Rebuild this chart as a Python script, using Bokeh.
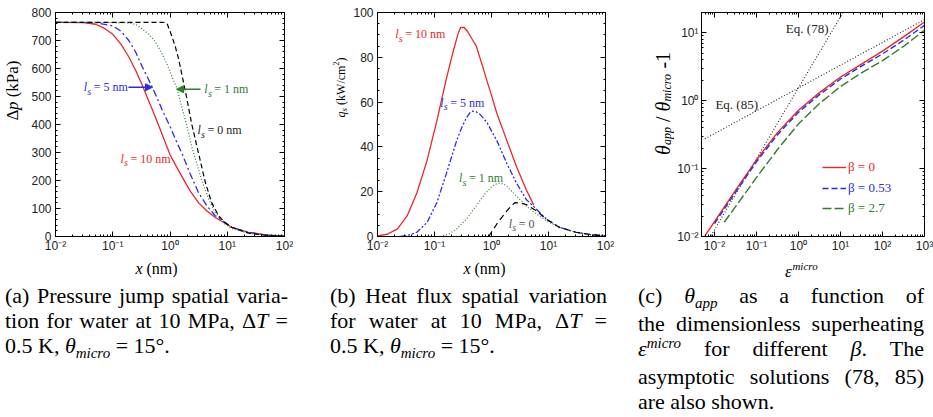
import math
from bokeh.plotting import figure
from bokeh.models import (LinearAxis, LogAxis, Range1d, Label, Arrow, NormalHead,
                          CustomJSTickFormatter, LogTicker, SingleIntervalTicker,
                          Legend, LegendItem, Div)
from bokeh.layouts import row, column
from bokeh.embed import file_html
from bokeh.resources import INLINE

SERIF = "Liberation Serif"
SANS = "Liberation Sans"
RED = "#e8262b"
BLUE = "#2b2be0"
GREEN = "#2f7d2f"
BLACK = "#000000"

# ---------------- (a) pressure jump dp (kPa) vs x (nm) ----------------
a_x_ls10 = [0.01, 0.0316, 0.0501, 0.0708, 0.1, 0.138, 0.191, 0.251, 0.327, 0.427, 0.562, 0.724, 1.0,
            1.26, 1.62, 2.24, 3.16, 4.47, 6.17, 12.0, 23.4, 50.1, 100]
a_dp_ls10 = [765, 764, 758, 744, 722, 688, 641, 594, 541, 483, 424, 366, 293,
             254, 214, 163, 120, 90, 68, 33, 15, 5, 1.5]
a_x_ls5 = [0.01, 0.0501, 0.1, 0.138, 0.191, 0.251, 0.327, 0.427, 0.562, 0.724, 1.02,
           1.26, 1.62, 2.24, 3.16, 4.47, 6.17, 12.0, 23.4, 50.1, 100]
a_dp_ls5 = [765, 764, 752, 734, 700, 659, 606, 559, 506, 454, 389,
            345, 296, 225, 156, 108, 74, 33, 15, 5, 1.5]
a_x_ls1 = [0.01, 0.158, 0.251, 0.427, 0.562, 0.724, 0.912, 1.12, 1.32, 1.62, 2.0, 2.4,
           3.16, 3.89, 4.79, 6.17, 9.12, 12.0, 23.4, 50.1, 100]
a_dp_ls1 = [765, 764, 758, 723, 694, 653, 610, 563, 530, 460, 390, 320,
            238, 180, 132, 85, 45, 28, 12, 4, 1.5]
a_x_ls0 = [0.01, 0.759, 0.891, 1.07, 1.23, 1.41, 1.86, 2.4, 3.16, 4.17, 5.37, 7.08,
           9.12, 12.0, 23.4, 50.1, 100]
a_dp_ls0 = [765, 765, 760, 717, 680, 635, 518, 401, 296, 191, 120, 74,
            50, 33, 12, 4, 1.5]

# ---------------- (b) heat flux q_s (kW/cm2) vs x (nm) ----------------
b_x_ls10 = [0.01, 0.0148, 0.0224, 0.0331, 0.049, 0.0741, 0.11, 0.162, 0.2, 0.24, 0.263, 0.288,
            0.331, 0.38, 0.447, 0.537, 0.708, 0.832, 1.0, 1.24, 1.86, 2.75, 4.07, 5.5]
b_q_ls10 = [0.3, 1.0, 3.4, 9.2, 19.4, 34, 51.6, 70.6, 80, 87.5, 91, 93.4,
            93.3, 91.5, 88.5, 85.2, 75.5, 69.5, 63, 55, 42.8, 31.1, 20.9, 14]
b_x_ls5 = [0.0251, 0.0355, 0.049, 0.0741, 0.11, 0.162, 0.245, 0.302, 0.363, 0.417, 0.468, 0.537,
           0.631, 0.832, 1.24, 1.86, 2.75, 4.07, 5.75, 9.12, 15.5, 30.2, 56.2, 100]
b_q_ls5 = [0, 0.6, 1.9, 6.3, 15.1, 28.2, 42.8, 48.8, 53, 55.2, 56, 55.7,
           54.5, 50.9, 42.8, 32.6, 23.8, 16.5, 12.9, 7.8, 4.1, 1.9, 0.8, 0.3]
b_x_ls1 = [0.126, 0.178, 0.245, 0.363, 0.537, 0.794, 1.02, 1.2, 1.41, 1.66, 1.86, 2.75, 4.07,
           6.17, 9.12, 15.5, 30.2, 56.2, 100]
b_q_ls1 = [0, 1.1, 3.4, 7.8, 13.6, 19.5, 22.4, 23.4, 23.8, 23.3, 22.4, 18, 13.6,
           10, 7, 4.1, 1.9, 0.8, 0.3]
b_x_ls0 = [0.891, 1.24, 1.86, 2.24, 2.57, 3.16, 4.07, 6.17, 9.12, 15.5, 30.2, 56.2, 100]
b_q_ls0 = [0, 5.6, 11.4, 13.8, 15.1, 15.0, 14.3, 11.4, 7.8, 4.1, 1.9, 0.8, 0.3]

# ---------------- (c) theta_app/theta_micro - 1 vs eps_micro ----------------
c_eps_b0 = [0.00589, 0.01, 0.0316, 0.1, 0.316, 1, 3.16, 10, 31.6, 100, 316, 1000]
c_th_b0 = [0.0102, 0.0166, 0.0479, 0.135, 0.339, 0.724, 1.318, 2.239, 3.467, 5.37, 8.71, 14.45]
c_eps_b053 = [0.01, 0.0316, 0.1, 0.316, 1, 3.16, 10, 31.6, 100, 316, 1000]
c_th_b053 = [0.0155, 0.0447, 0.126, 0.316, 0.676, 1.23, 2.09, 3.24, 4.90, 7.76, 12.9]
c_eps_b27 = [0.017, 0.0316, 0.1, 0.316, 1, 3.16, 10, 31.6, 100, 316, 1000]
c_th_b27 = [0.0162, 0.0275, 0.0741, 0.191, 0.457, 0.912, 1.62, 2.57, 3.89, 6.31, 10.96]
c_eps_eq78 = [0.005, 20]
c_th_eq78 = [0.0061, 35.6]
c_eps_eq85 = [0.0059, 1000]
c_th_eq85 = [0.275, 15.7]

# ---------------- helpers ----------------
W_REG = {' ': 250, '(': 333, ')': 333, 'k': 500, 'P': 556, 'a': 444, 'n': 500, 'm': 778,
         'W': 944, '/': 278, 'c': 444, '2': 500, '-': 333, '1': 500, '\u0394': 612,
         '=': 564, '0': 500, '5': 500}
W_IT = {'x': 444, 'p': 500, 'q': 500, 's': 389, 'a': 500, '\u03b8': 500, 'm': 722,
        'i': 278, 'c': 444, 'r': 389, 'o': 500, '\u03b5': 440, 'l': 278, ' ': 250}


def twidth(s, italic, size):
    tab = W_IT if italic else W_REG
    return sum(tab.get(ch, 500) for ch in s) * size / 1000.0


def rich(p, parts, x0, y0, angle=0.0, color=BLACK):
    total = sum(twidth(t, it, sz) for t, it, sz, sh in parts)
    pos = -total / 2.0
    for t, it, sz, sh in parts:
        core = t.strip(" ")
        lead = len(t) - len(t.lstrip(" "))
        trail = len(t) - len(t.rstrip(" "))
        pos += lead * 0.25 * sz
        if angle == 0:
            xo, yo = pos, sh
        else:
            xo, yo = -sh, pos
        p.add_layout(Label(x=x0, y=y0, x_units="screen", y_units="screen", x_offset=xo, y_offset=yo,
                           text=core, angle=angle, text_font=SERIF,
                           text_font_style="italic" if it else "normal",
                           text_font_size=f"{sz}px", text_baseline="middle", text_align="left",
                           text_color=color))
        pos += twidth(core, it, sz) + trail * 0.25 * sz


def ls_label(p, x, y, rest, color, fs=12):
    p.add_layout(Label(x=x, y=y, text="l", text_font=SERIF, text_font_style="italic",
                       text_font_size=f"{fs}px", text_color=color, text_baseline="middle"))
    p.add_layout(Label(x=x, y=y, x_offset=3.6, y_offset=-4, text="s", text_font=SERIF,
                       text_font_style="italic", text_font_size=f"{fs - 2}px", text_color=color,
                       text_baseline="middle"))
    p.add_layout(Label(x=x, y=y, x_offset=10, text=rest, text_font=SERIF,
                       text_font_size=f"{fs}px", text_color=color, text_baseline="middle"))


LOGFMT_CODE = """
const e = Math.round(Math.log10(tick));
const m = {'-':'\\u207b','0':'\\u2070','1':'\\u00b9','2':'\\u00b2','3':'\\u00b3','4':'\\u2074',
           '5':'\\u2075','6':'\\u2076','7':'\\u2077','8':'\\u2078','9':'\\u2079'};
return '10' + String(e).split('').map(c => m[c]).join('');
"""


def style_axis(ax, labels=True, standoff=4):
    ax.axis_line_color = BLACK
    ax.major_tick_line_color = BLACK
    ax.minor_tick_line_color = BLACK
    ax.major_tick_in = 5
    ax.major_tick_out = 0
    ax.minor_tick_in = 2
    ax.minor_tick_out = 0
    ax.major_label_text_font = SANS
    ax.major_label_text_color = "#222222"
    if labels:
        ax.major_label_text_font_size = "12px"
        ax.major_label_standoff = standoff
    else:
        ax.major_label_text_font_size = "1px"
        ax.major_label_text_alpha = 0.0
        ax.major_label_standoff = 0


def base_fig(width, height, xr, yr, xlog, ylog, bl, br, bt, bb):
    p = figure(width=width, height=height, x_range=xr, y_range=yr,
               x_axis_type="log" if xlog else "linear", y_axis_type="log" if ylog else "linear",
               output_backend="svg", toolbar_location=None,
               min_border_left=bl, min_border_right=br, min_border_top=bt, min_border_bottom=bb)
    p.xgrid.visible = False
    p.ygrid.visible = False
    p.outline_line_color = BLACK
    p.outline_line_width = 1
    p.background_fill_color = "white"
    p.border_fill_color = "white"
    return p


def strip(width, height):
    s = figure(width=width, height=height, x_range=Range1d(0, 1), y_range=Range1d(0, 1),
               x_axis_location=None, y_axis_location=None, output_backend="svg",
               toolbar_location=None, min_border=0)
    s.outline_line_color = None
    s.xgrid.visible = False
    s.ygrid.visible = False
    s.background_fill_color = "white"
    s.border_fill_color = "white"
    return s


def add_frame_axes(p, xlog, ylog, yint=None, yminor=None, xstand=2, ystand=4):
    def mk(log, interval=None, minor=None):
        return LogTicker(num_minor_ticks=10) if log else SingleIntervalTicker(interval=interval, num_minor_ticks=minor)
    p.xaxis[0].ticker = mk(xlog)
    p.yaxis[0].ticker = mk(ylog, yint, yminor)
    if xlog:
        p.xaxis[0].formatter = CustomJSTickFormatter(code=LOGFMT_CODE)
    if ylog:
        p.yaxis[0].formatter = CustomJSTickFormatter(code=LOGFMT_CODE)
    style_axis(p.xaxis[0], standoff=xstand)
    style_axis(p.yaxis[0], standoff=ystand)
    top = (LogAxis if xlog else LinearAxis)(ticker=mk(xlog))
    right = (LogAxis if ylog else LinearAxis)(ticker=mk(ylog, yint, yminor))
    style_axis(top, labels=False)
    style_axis(right, labels=False)
    p.add_layout(top, "above")
    p.add_layout(right, "right")


ROW_H = 256

# ---------------- panel (a) ----------------
pa = base_fig(290, ROW_H, Range1d(0.01, 100), Range1d(0, 800), True, False, 27, 34, 8, 20)
add_frame_axes(pa, True, False, 100, 5)
pa.line(a_x_ls10, a_dp_ls10, line_color=RED, line_width=1.3)
pa.line(a_x_ls5, a_dp_ls5, line_color=BLUE, line_width=1.3, line_dash="7 3 2 3")
pa.line(a_x_ls1, a_dp_ls1, line_color=GREEN, line_width=1.2, line_dash="1 2")
pa.line(a_x_ls0, a_dp_ls0, line_color=BLACK, line_width=1.2, line_dash="5 3")
ls_label(pa, 0.031, 533, "= 5 nm", BLUE)
ls_label(pa, 3.98, 526, "= 1 nm", GREEN)
ls_label(pa, 3.02, 379, "= 0 nm", "#222222")
ls_label(pa, 0.136, 277, "= 10 nm", RED)
pa.add_layout(Arrow(end=NormalHead(size=7, fill_color=BLUE, line_color=BLUE),
                    x_start=0.188, y_start=533, x_end=0.494, y_end=533,
                    line_color=BLUE, line_width=1.6))
pa.add_layout(Arrow(end=NormalHead(size=7, fill_color=GREEN, line_color=GREEN),
                    x_start=3.41, y_start=526, x_end=1.30, y_end=526,
                    line_color=GREEN, line_width=1.6))
ya = strip(28, ROW_H)
rich(ya, [("\u0394", False, 17, 0), ("p", True, 17, 0), (" (kPa)", False, 17, 0)],
     12, ROW_H - 110, angle=math.pi / 2)

# ---------------- panel (b) ----------------
pb = base_fig(278, ROW_H, Range1d(0.01, 100), Range1d(0, 100), True, False, 24, 23, 8, 20)
add_frame_axes(pb, True, False, 20, 4)
pb.line(b_x_ls10, b_q_ls10, line_color=RED, line_width=1.3)
pb.line(b_x_ls5, b_q_ls5, line_color=BLUE, line_width=1.3, line_dash="6 2 2 2 2 2")
pb.line(b_x_ls1, b_q_ls1, line_color=GREEN, line_width=1.2, line_dash="1 2")
pb.line(b_x_ls0, b_q_ls0, line_color=BLACK, line_width=1.2, line_dash="6 4")
ls_label(pb, 0.0204, 90.4, "= 10 nm", RED)
ls_label(pb, 0.126, 59.6, "= 5 nm", BLUE)
ls_label(pb, 0.269, 26, "= 1 nm", GREEN)
ls_label(pb, 2.0, 5.7, "= 0", "#555555")
yb = strip(32, ROW_H)
rich(yb, [("q", True, 12, 0), ("s", True, 9, -3), (" (kW/cm", False, 12, 0), ("2", False, 8, 5),
          (")", False, 12, 0)], 22, ROW_H - 107, angle=math.pi / 2)

# ---------------- panel (c) ----------------
pc = base_fig(259, ROW_H, Range1d(0.0049, 1000), Range1d(0.01, 19.95), True, True, 23, 9, 12, 17)
add_frame_axes(pc, True, True, xstand=2, ystand=3)
pc.line(c_eps_eq78, c_th_eq78, line_color="#222222", line_width=1.1, line_dash="1 2")
pc.line(c_eps_eq85, c_th_eq85, line_color="#222222", line_width=1.1, line_dash="1 2")
r0 = pc.line(c_eps_b0, c_th_b0, line_color=RED, line_width=1.4)
r1 = pc.line(c_eps_b053, c_th_b053, line_color=BLUE, line_width=1.4, line_dash="6 3")
r2 = pc.line(c_eps_b27, c_th_b27, line_color=GREEN, line_width=1.4, line_dash="9 3")
for rend, lab, col, yy in [(r0, "\u03b2 = 0", RED, 61), (r1, "\u03b2 = 0.53", BLUE, 40),
                           (r2, "\u03b2 = 2.7", GREEN, 20)]:
    lg = Legend(items=[LegendItem(label=lab, renderers=[rend])], location=(121, yy),
                background_fill_alpha=0, border_line_alpha=0, padding=0, margin=0, spacing=0,
                glyph_width=24, glyph_height=12, label_height=12, label_standoff=2,
                label_text_color=col, label_text_font=SERIF, label_text_font_size="13px")
    pc.add_layout(lg, "center")
pc.add_layout(Label(x=0.50, y=11.5, text="Eq. (78)", text_font=SERIF, text_font_size="13px",
                    text_color="#222222", text_baseline="middle"))
pc.add_layout(Label(x=0.0105, y=0.89, text="Eq. (85)", text_font=SERIF, text_font_size="13px",
                    text_color="#222222", text_baseline="middle"))
yc = strip(46, ROW_H)
rich(yc, [("\u03b8", True, 20, 0), ("app", True, 12, -4), (" / ", False, 20, 0),
          ("\u03b8", True, 20, 0), ("micro", True, 12, -4), (" -1", False, 20, 0)],
     34, ROW_H - 123, angle=math.pi / 2)

# ---------------- x-axis titles strip ----------------
xs = strip(933, 26)
rich(xs, [("x", True, 16, 0), (" (nm)", False, 16, 0)], 156, 14)
rich(xs, [("x", True, 16, 0), (" (nm)", False, 16, 0)], 484, 14)
rich(xs, [("\u03b5", True, 17, 0), ("micro", True, 11, 6)], 801, 11)

# ---------------- captions ----------------
J = "text-align:justify;text-align-last:justify;"
L = "text-align:left;"
SUB = "<span style='font-size:15px;position:relative;top:5px;'>{}</span>"
SUP = "<span style='font-size:15px;position:relative;top:-8px;'>{}</span>"
theta_micro = "<i>\u03b8" + SUB.format("micro") + "</i>"


def cap(lines, w):
    style = (f"font-family:'Liberation Serif';font-size:22px;line-height:25px;color:#000;"
             f"width:{w}px;")
    html = "".join(f"<div style=\"{st}\">{txt}</div>" for txt, st in lines)
    return f"<div style=\"{style}\">{html}</div>"


cap_a = cap([("(a) Pressure jump spatial varia-", J),
             ("tion for water at 10 MPa, \u0394<i>T</i> =", J),
             ("0.5 K, " + theta_micro + " = 15\u00b0.", L)], 283)
cap_b = cap([("(b) Heat flux spatial variation", J),
             ("for water at 10 MPa, \u0394<i>T</i> =", J),
             ("0.5 K, " + theta_micro + " = 15\u00b0.", L)], 277)
cap_c = cap([("(c) <i>\u03b8" + SUB.format("app") + "</i> as a function of", J),
             ("the dimensionless superheating", J),
             ("<i>\u03b5" + SUP.format("micro") + "</i> for different <i>\u03b2</i>. The", J),
             ("asymptotic solutions (78,&nbsp;85)", J),
             ("are also shown.", L)], 286)

da = Div(text=cap_a, width=283, height=125, margin=(1, 42, 0, 5))
db = Div(text=cap_b, width=277, height=125, margin=(1, 31, 0, 0))
dc = Div(text=cap_c, width=292, height=125, margin=(1, 0, 0, 0))

layout = column(row(ya, pa, yb, pb, yc, pc), xs, row(da, db, dc))
open("out.html", "w").write(file_html(layout, INLINE))
